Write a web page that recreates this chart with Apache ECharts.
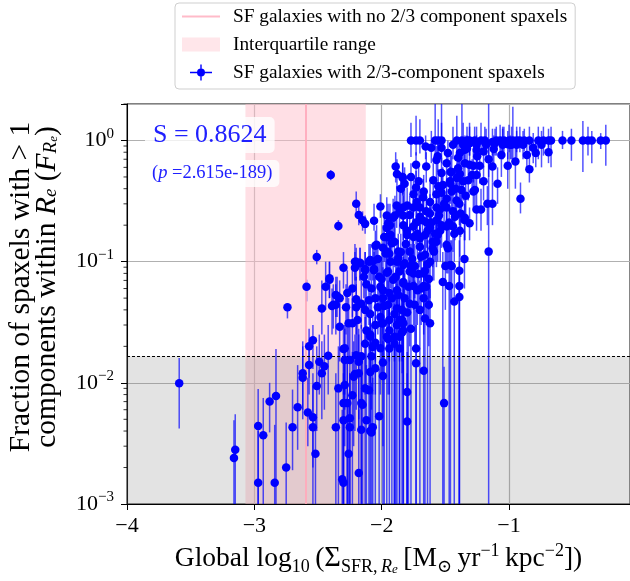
<!DOCTYPE html>
<html><head><meta charset="utf-8">
<script src="https://cdn.jsdelivr.net/npm/echarts@6/dist/echarts.min.js"></script>
<style>html,body{margin:0;padding:0;background:#fff}#c{width:630px;height:581px}</style>
</head><body><div id="c"></div>
<script>
// ---------- data ----------
const legendNames = ['SF galaxies with no 2/3 component spaxels', 'Interquartile range', 'SF galaxies with 2/3-component spaxels'];
const xRange = [-4, -0.05];
const yRange = [0.001, 2];
const xTickStep = 1;
const yMinorTickValues = [0.002,0.003,0.004,0.005,0.006,0.007,0.008,0.009,0.02,0.03,0.04,0.05,0.06,0.07,0.08,0.09,0.2,0.3,0.4,0.5,0.6,0.7,0.8,0.9,2];
const noMultiMedian = -2.596;
const interquartile = [-3.07, -2.125];
const detectionLimit = 0.0166;
const spearmanS = '0.8624';
const pValue = '2.615e-189';
// points: [x, y, yLow, yHigh]
const topRow = [[-1.77,1.0,0.73,1.4],[-1.73,1.0,0.75,1.6],[-1.70,1.0,0.78,1.5],[-1.58,1.0,0.7,2.3],[-1.556,1.0,0.75,1.5],[-1.53,1.0,0.8,1.4],[-1.41,1.0,0.7,1.6],[-1.37,1.0,0.68,2.3],[-1.33,1.0,0.8,1.3],[-1.31,1.0,0.75,1.4],[-1.27,1.0,0.8,1.3],[-1.22,1.0,0.8,1.4],[-1.19,1.0,0.78,1.3],[-1.13,0.97,0.75,1.25],[-1.10,1.0,0.75,1.3],[-1.07,1.0,0.7,1.35],[-1.05,0.95,0.7,1.3],[-1.04,1.0,0.78,1.3],[-1.01,0.93,0.7,1.2],[-1.00,1.0,0.8,1.35],[-0.97,1.0,0.65,1.9],[-0.94,1.0,0.8,1.3],[-0.915,1.0,0.8,1.3],[-0.88,1.0,0.82,1.25],[-0.84,1.0,0.8,1.3],[-0.77,1.0,0.7,1.3],[-0.73,1.0,0.75,1.3],[-0.69,1.0,0.8,1.25],[-0.67,1.0,0.6,1.3],[-0.58,1.0,0.85,1.2],[-0.51,1.0,0.68,1.25],[-0.42,1.0,0.55,1.45],[-0.38,1.0,0.75,1.3],[-0.35,1.0,0.65,1.2],[-0.28,1.0,0.85,1.15],[-0.24,1.0,0.62,1.35],
[-1.61,0.87,0.65,1.2],[-1.53,0.87,0.65,2.3],[-1.44,0.92,0.7,1.3],[-1.36,0.92,0.7,1.4],[-1.31,0.95,0.75,1.3],[-1.255,0.92,0.7,1.3],[-1.18,0.92,0.72,1.25],[-1.11,0.95,0.75,1.25],[-1.05,0.92,0.7,1.25],[-0.98,0.92,0.7,1.3],[-0.94,0.92,0.72,1.2],[-0.89,0.92,0.7,1.2],[-0.81,0.87,0.65,1.15],[-0.745,0.92,0.6,1.2]];
const upperCloud = [[-2.40,0.52,0.47,0.57],[-2.20,0.30,0.25,0.38],[-2.18,0.243,0.2,0.29],[-2.15,0.22,0.18,0.26],[-2.13,0.205,0.17,0.24],[-2.34,0.197,0.18,0.22],[-2.06,0.218,0.18,0.3],[-2.01,0.285,0.23,0.36],[-1.96,0.19,0.15,0.24],[-1.96,0.159,0.12,0.2],
[-1.655,0.89,0.7,1.1],[-0.86,0.76,0.6,0.95],[-0.84,0.58,0.45,0.75],[-0.79,0.79,0.6,1.0],[-0.69,0.80,0.65,1.0],[-0.91,0.33,0.25,0.45],[-1.01,0.62,0.4,0.8],[-0.95,0.67,0.4,0.9],[-1.09,0.44,0.3,0.6],[-1.13,0.61,0.45,0.8],[-1.06,0.76,0.5,1.0],[-0.99,0.92,0.7,1.1],[-1.13,0.30,0.2,0.45],[-1.17,0.30,0.2,0.42],[-1.22,0.27,0.18,0.4],[-1.31,0.207,0.15,0.28],[-1.35,0.221,0.15,0.3],
[-1.89,0.61,0.45,0.8],[-1.88,0.53,0.4,0.7],[-1.82,0.44,0.3,0.6],[-1.77,0.50,0.35,0.65],[-1.73,0.63,0.45,0.8],[-1.65,0.61,0.45,0.8],[-1.56,0.74,0.55,0.95],[-1.48,0.79,0.6,1.0],[-1.40,0.72,0.5,0.95],[-1.33,0.86,0.6,1.1],[-1.31,0.63,0.45,0.85],[-1.25,0.74,0.55,0.95],[-1.20,0.81,0.6,1.0],[-1.39,0.30,0.2,0.45],[-1.46,0.44,0.3,0.6],[-1.52,0.43,0.3,0.6],[-1.57,0.36,0.25,0.5],[-1.62,0.31,0.2,0.45],[-1.67,0.38,0.25,0.52],[-1.70,0.28,0.18,0.4],[-1.78,0.243,0.16,0.35],[-1.83,0.20,0.13,0.3],[-1.93,0.166,0.1,0.25],[-1.95,0.207,0.14,0.3],
[-1.835,0.49,0.35,0.65],[-1.85,0.40,0.28,0.55],[-1.71,0.46,0.32,0.62],[-1.73,0.41,0.28,0.56],[-1.57,0.69,0.5,0.9],[-1.49,0.65,0.45,0.85],[-1.45,0.55,0.4,0.75],[-1.53,0.54,0.38,0.72],[-1.595,0.47,0.33,0.65],[-1.556,0.42,0.3,0.58],[-1.464,0.46,0.32,0.62],[-1.386,0.79,0.55,1.05],[-1.347,0.84,0.6,1.1],[-1.28,0.62,0.45,0.82],[-1.347,0.65,0.45,0.85],[-1.40,0.59,0.4,0.8],[-1.386,0.53,0.36,0.72],[-1.32,0.47,0.32,0.65],[-1.373,0.39,0.27,0.55],[-1.45,0.38,0.26,0.52],[-1.53,0.37,0.25,0.5],[-1.674,0.34,0.23,0.48],[-1.725,0.31,0.2,0.44],[-1.752,0.28,0.18,0.4],[-1.831,0.28,0.18,0.4],[-1.882,0.29,0.19,0.42],[-1.896,0.24,0.15,0.35],[-1.831,0.24,0.15,0.35],[-1.935,0.20,0.12,0.3],[-1.70,0.235,0.15,0.34],[-1.621,0.25,0.16,0.36],[-1.543,0.27,0.18,0.38],[-1.49,0.28,0.19,0.4],[-1.412,0.32,0.22,0.45],[-1.268,0.39,0.27,0.55],[-1.347,0.23,0.15,0.33],[-1.425,0.235,0.15,0.34],[-1.49,0.195,0.12,0.28],[-1.569,0.22,0.14,0.32],[-1.647,0.21,0.13,0.3],[-1.752,0.195,0.12,0.28],[-1.386,0.18,0.11,0.26],[-1.255,0.27,0.18,0.38],[-1.255,0.84,0.65,1.1],
[-1.56,0.166,0.1,0.25],[-1.75,0.16,0.11,0.22],[-1.80,0.18,0.12,0.25],[-1.66,0.166,0.11,0.23],[-1.64,0.18,0.12,0.25],[-1.54,0.18,0.1,0.26],
[-1.835,0.50,0.36,0.66],[-1.46,0.55,0.4,0.75],[-1.41,0.49,0.34,0.66],[-1.36,0.46,0.32,0.62],[-1.255,0.52,0.36,0.7],[-1.20,0.46,0.32,0.62],[-1.28,0.38,0.26,0.52],[-1.49,0.33,0.22,0.46],[-1.57,0.28,0.18,0.4],[-1.65,0.26,0.17,0.37],[-1.44,0.26,0.17,0.37],[-1.75,0.36,0.24,0.5],[-1.80,0.29,0.19,0.41],[-1.86,0.26,0.17,0.37],[-1.91,0.23,0.15,0.33],[-1.96,0.24,0.16,0.34],[-1.73,0.21,0.14,0.3],[-1.62,0.19,0.12,0.28],[-1.53,0.20,0.13,0.29],[-1.44,0.195,0.12,0.28],[-1.80,0.166,0.1,0.24],[-1.70,0.156,0.1,0.23],[-1.90,0.146,0.09,0.21],[-1.57,0.146,0.09,0.21],[-1.49,0.137,0.08,0.2],
[-1.98,0.16,0.1,0.24],[-1.72,0.17,0.11,0.25],[-1.68,0.22,0.14,0.32],[-1.61,0.21,0.13,0.31],[-1.58,0.17,0.1,0.26],[-1.55,0.24,0.15,0.35],[-1.51,0.30,0.2,0.43],[-1.47,0.21,0.13,0.31],[-1.43,0.17,0.1,0.26],[-1.42,0.40,0.27,0.56],[-1.38,0.25,0.16,0.36],[-1.34,0.35,0.24,0.5],[-1.29,0.52,0.36,0.7],[-1.23,0.62,0.44,0.82],[-1.16,0.70,0.5,0.9],[-1.12,0.85,0.62,1.1]];
const midCloud = [[-2.74,0.042,0.034,0.045],[-2.59,0.062,0.047,0.071],[-2.51,0.109,0.095,0.125],[-2.47,0.041,0.025,0.07],[-2.44,0.062,0.04,0.1],[-2.41,0.071,0.05,0.1],[-2.39,0.043,0.025,0.06],[-2.36,0.044,0.025,0.065],[-2.36,0.053,0.035,0.075],[-2.33,0.029,0.015,0.045],[-2.33,0.050,0.03,0.07],[-2.30,0.089,0.06,0.12],[-2.28,0.042,0.025,0.065],[-2.26,0.031,0.015,0.05],[-2.23,0.031,0.015,0.05],[-2.21,0.10,0.07,0.14],[-2.21,0.089,0.06,0.12],[-2.20,0.049,0.03,0.075],[-2.20,0.042,0.025,0.065],[-2.19,0.033,0.018,0.05],[-2.17,0.097,0.07,0.13],[-2.13,0.021,0.008,0.035],[-2.13,0.085,0.06,0.12],[-2.10,0.10,0.07,0.14],[-2.12,0.027,0.012,0.045],[-2.10,0.048,0.03,0.07],[-2.05,0.050,0.03,0.075],
[-2.05,0.135,0.1,0.18],[-2.20,0.10,0.07,0.13],[-2.17,0.098,0.07,0.13],[-2.09,0.103,0.07,0.14],[-2.03,0.105,0.08,0.14],[-2.13,0.087,0.06,0.12],[-2.06,0.085,0.06,0.12],[-2.41,0.073,0.05,0.1],[-2.14,0.075,0.05,0.1],
[-2.35,0.052,0.035,0.075],[-2.38,0.044,0.028,0.065],[-2.16,0.045,0.028,0.07],[-2.13,0.040,0.022,0.06],[-2.09,0.037,0.02,0.055],[-2.03,0.042,0.025,0.065],[-2.01,0.035,0.02,0.055],[-2.05,0.030,0.015,0.05],[-1.99,0.031,0.015,0.05],[-2.09,0.024,0.01,0.04],[-2.05,0.0214,0.008,0.035],
[-1.16,0.121,0.0005,2.5],[-1.35,0.105,0.06,0.18],[-1.39,0.084,0.0005,0.15],[-1.39,0.063,0.0005,0.1],[-1.39,0.051,0.0005,0.09],[-1.47,0.063,0.0005,0.12],[-1.50,0.092,0.04,0.15],[-1.46,0.094,0.0005,0.15],[-1.62,0.031,0.0005,0.06],[-1.63,0.044,0.02,0.07],[-1.66,0.034,0.0005,0.06],[-1.65,0.062,0.03,0.1],[-1.67,0.050,0.025,0.08],[-1.63,0.072,0.04,0.11],[-1.66,0.084,0.05,0.12],[-1.72,0.058,0.03,0.09],[-1.71,0.079,0.045,0.12],[-1.78,0.045,0.02,0.07],[-1.83,0.066,0.035,0.1],[-1.84,0.040,0.015,0.065],[-1.83,0.031,0.0005,0.055],[-1.84,0.026,0.0005,0.05],[-1.90,0.024,0.0005,0.045],[-1.95,0.023,0.008,0.04],[-1.94,0.033,0.015,0.055],[-2.00,0.031,0.012,0.05],[-2.01,0.062,0.035,0.1],[-2.00,0.072,0.04,0.11],[-1.99,0.050,0.025,0.08],[-2.06,0.087,0.05,0.13],[-1.96,0.081,0.05,0.12],[-1.94,0.055,0.03,0.09],[-1.88,0.10,0.06,0.15],[-1.87,0.121,0.08,0.17],[-1.83,0.094,0.05,0.14],[-1.77,0.092,0.05,0.14],[-1.74,0.092,0.05,0.14],[-1.75,0.080,0.04,0.12],[-1.86,0.033,0.015,0.055],[-1.88,0.041,0.02,0.065],[-1.94,0.116,0.08,0.16],[-1.59,0.121,0.07,0.18],
[-1.48,0.129,0.08,0.2],[-1.45,0.092,0.05,0.15],[-1.52,0.068,0.0005,0.12],[-1.43,0.047,0.0005,0.09],[-1.60,0.146,0.09,0.22],[-1.60,0.129,0.07,0.2],[-1.62,0.10,0.05,0.16],[-1.67,0.080,0.04,0.13],[-1.67,0.063,0.03,0.1],[-1.74,0.044,0.02,0.07],[-1.75,0.063,0.03,0.1],[-1.78,0.083,0.045,0.12],[-1.82,0.097,0.05,0.14],[-1.86,0.083,0.04,0.13],[-1.88,0.058,0.03,0.09],[-1.82,0.050,0.025,0.08],[-1.87,0.053,0.025,0.085],[-1.90,0.037,0.015,0.06],[-1.84,0.033,0.012,0.055],[-1.95,0.044,0.02,0.07],[-1.94,0.027,0.008,0.045],[-1.83,0.027,0.008,0.045],[-1.86,0.024,0.0005,0.045],[-1.90,0.021,0.0005,0.04],[-1.96,0.024,0.0005,0.045],[-1.99,0.058,0.03,0.09],[-1.95,0.083,0.045,0.12],[-1.91,0.071,0.04,0.11],[-1.97,0.117,0.08,0.16],[-1.92,0.142,0.1,0.2],[-1.70,0.133,0.09,0.19],[-1.99,0.13,0.08,0.2],[-2.04,0.138,0.09,0.2],[-2.07,0.10,0.07,0.14],[-2.09,0.025,0.012,0.04],
[-1.78,0.121,0.08,0.17],[-1.66,0.114,0.07,0.17],[-1.96,0.121,0.08,0.17],[-1.87,0.107,0.07,0.15],
[-1.83,0.068,0.0005,0.11],[-1.93,0.10,0.06,0.14],[-1.89,0.075,0.0005,0.11],[-1.85,0.12,0.08,0.17],[-1.81,0.14,0.09,0.2],[-1.79,0.062,0.0005,0.1],[-1.76,0.105,0.06,0.15],[-1.69,0.11,0.07,0.16],[-1.64,0.095,0.0005,0.15],[-1.98,0.043,0.0005,0.07],[-1.92,0.05,0.0005,0.08],[-1.88,0.03,0.0005,0.05],[-1.80,0.038,0.0005,0.06],[-1.77,0.028,0.0005,0.05],[-1.70,0.04,0.0005,0.07],[-1.69,0.06,0.03,0.09],[-2.02,0.075,0.045,0.11],[-2.08,0.06,0.035,0.09],[-2.12,0.065,0.04,0.095],[-2.23,0.06,0.035,0.09],[-2.27,0.055,0.0005,0.085]];
const lowCloud = [[-3.59,0.0099,0.0042,0.016],[-3.16,0.0024,0.0005,0.0049],[-3.15,0.0028,0.0005,0.0055],[-2.97,0.0044,0.0005,0.0089],[-2.93,0.0037,0.0005,0.0075],[-2.97,0.0015,0.0005,0.004],[-2.88,0.0070,0.0039,0.010],[-2.83,0.0078,0.0005,0.019],[-2.84,0.0015,0.0005,0.0045],[-2.75,0.0020,0.0008,0.0047],[-2.70,0.0043,0.0019,0.0088],[-2.66,0.0063,0.0028,0.014],[-2.62,0.011,0.005,0.022],[-2.62,0.012,0.006,0.02],[-2.58,0.0057,0.003,0.011],[-2.57,0.020,0.011,0.028],[-2.57,0.014,0.008,0.022],[-2.54,0.0225,0.013,0.03],[-2.54,0.0043,0.0008,0.0095],[-2.54,0.0052,0.002,0.012],[-2.52,0.0026,0.0005,0.0055],[-2.51,0.0094,0.004,0.02],[-2.49,0.0149,0.008,0.025],[-2.47,0.012,0.005,0.022],[-2.45,0.0137,0.006,0.025],[-2.42,0.0167,0.008,0.03],[-2.36,0.0043,0.0005,0.012],[-2.34,0.009,0.0005,0.02],[-2.30,0.0068,0.0005,0.015],[-2.30,0.0049,0.0005,0.012],[-2.30,0.019,0.008,0.03],[-2.31,0.0016,0.0005,0.006],[-2.30,0.0015,0.0005,0.005],[-2.29,0.0096,0.003,0.02],[-2.29,0.0154,0.006,0.028],[-2.26,0.0026,0.0005,0.007],[-2.25,0.0051,0.0005,0.012],[-2.25,0.0154,0.005,0.03],[-2.23,0.0079,0.0005,0.018],[-2.18,0.0018,0.0005,0.006],[-2.21,0.0118,0.004,0.025],[-2.18,0.012,0.004,0.025],[-2.16,0.0041,0.0005,0.012],[-2.16,0.0068,0.0005,0.016],[-2.16,0.0166,0.006,0.03],[-2.12,0.0049,0.0005,0.014],[-2.10,0.0087,0.0005,0.02],[-2.09,0.0040,0.0005,0.012],[-2.07,0.0198,0.008,0.035],[-2.05,0.0132,0.0005,0.028],
[-2.29,0.0193,0.008,0.03],[-2.20,0.0169,0.006,0.03],[-2.08,0.0166,0.006,0.03],[-2.18,0.0149,0.005,0.028],[-2.22,0.0112,0.003,0.022],[-2.09,0.0123,0.004,0.025],[-1.99,0.0114,0.003,0.022],[-2.13,0.009,0.0005,0.02],[-2.27,0.0068,0.0005,0.015],[-2.25,0.0043,0.0005,0.012],[-2.15,0.0066,0.0005,0.016],[-2.08,0.0039,0.0005,0.01],[-2.07,0.0043,0.0005,0.011],[-2.02,0.0053,0.0005,0.013],[-1.80,0.0048,0.0005,0.012],[-1.80,0.0084,0.0005,0.018],[-1.51,0.0068,0.0005,0.0136],[-1.73,0.0192,0.0005,0.04],[-1.73,0.0145,0.0005,0.03],[-1.67,0.0126,0.0005,0.03],[-1.86,0.0192,0.0005,0.04],[-1.94,0.0192,0.0005,0.04],[-1.99,0.0147,0.0005,0.03],[-2.01,0.0193,0.008,0.035]];

// ---------- chart ----------
const FONT = '"Liberation Serif", "DejaVu Serif", serif';
const allPoints = topRow.concat(upperCloud, midCloud, lowCloud);
const chart = echarts.init(document.getElementById('c'), null, {renderer: 'canvas'});
const minus = s => String(s).replace('-', '\u2212');

const option = {
  animation: false,
  backgroundColor: '#fff',
  grid: {left: 127, right: 0, top: 104, bottom: 77, containLabel: false, outerBoundsMode: 'none',
    show: true, borderColor: '#000', borderWidth: 1, backgroundColor: 'transparent'},
  legend: {
    orient: 'vertical', left: 175, top: 3,
    padding: [4, 8, 7, 7], itemGap: 9, itemWidth: 46, itemHeight: 16,
    backgroundColor: '#fff', borderColor: '#cfcfcf', borderWidth: 1, borderRadius: 4,
    textStyle: {fontFamily: FONT, fontSize: 19.3, lineHeight: 18, color: '#000'},
    selectedMode: false,
    data: [
      {name: legendNames[0], icon: 'path://M0,0L0.01,0Z M0,7L38,7L38,9L0,9Z M46,16L46.01,16Z', itemStyle: {color: '#ffaabb'}},
      {name: legendNames[1], icon: 'path://M0,0L0.01,0Z M0,1L38,1L38,15L0,15Z M46,16L46.01,16Z', itemStyle: {color: 'rgba(255,192,203,0.5)'}},
      {name: legendNames[2], icon: 'path://M0,0L0.01,0Z M46,16L46.01,16Z M8,7.3L30,7.3L30,8.7L8,8.7Z M18.3,0L19.7,0L19.7,16L18.3,16Z M23,8A4,4 0 1 1 15,8A4,4 0 1 1 23,8Z', itemStyle: {color: '#0000ff'}}
    ]
  },
  xAxis: {
    type: 'value', min: xRange[0], max: xRange[1], interval: xTickStep,
    axisLine: {show: true, lineStyle: {color: '#000', width: 1}},
    axisTick: {show: true, inside: false, length: 6, lineStyle: {color: '#000', width: 1}},
    splitLine: {show: true, lineStyle: {color: '#b0b0b0', width: 1.2}},
    axisLabel: {margin: 11, fontFamily: FONT, fontSize: 22, color: '#000',
      formatter: v => Math.abs(v - Math.round(v)) < 1e-6 ? minus(Math.round(v)) : ''},
    name: 'Global log{sub|10}\u2009({big|\u03A3}{sub|SFR,\u2009}{subi|R}{subsub|e}\u2009[M{sub|\u2299}\u2009yr{sup|\u22121}\u2009kpc{sup|\u22122}])',
    nameLocation: 'middle', nameGap: 38,
    nameTextStyle: {fontFamily: FONT, fontSize: 27.5, color: '#000', lineHeight: 34,
      rich: {
        sub: {fontFamily: FONT, fontSize: 18, lineHeight: 17, verticalAlign: 'bottom', color: '#000'},
        subi: {fontFamily: FONT, fontSize: 18, fontStyle: 'italic', lineHeight: 17, verticalAlign: 'bottom', color: '#000'},
        subsub: {fontFamily: FONT, fontSize: 13, fontStyle: 'italic', lineHeight: 11, verticalAlign: 'bottom', color: '#000'},
        sup: {fontFamily: FONT, fontSize: 18, lineHeight: 17, verticalAlign: 'top', color: '#000'},
        big: {fontFamily: FONT, fontSize: 28.5, lineHeight: 34, color: '#000'}
      }}
  },
  yAxis: {
    type: 'log', logBase: 10, min: yRange[0], max: yRange[1],
    axisLine: {show: true, lineStyle: {color: '#000', width: 1}},
    axisTick: {show: true, inside: false, length: 6, lineStyle: {color: '#000', width: 1}},
    minorTick: {show: false},
    splitLine: {show: true, lineStyle: {color: '#b0b0b0', width: 1.2}},
    axisLabel: {margin: 13, fontFamily: FONT, color: '#000',
      formatter: v => {
        const l = Math.log10(v), e = Math.round(l);
        if (Math.abs(l - e) > 1e-6) return '';
        return '{b|10}{s|' + minus(e) + '}';
      },
      rich: {
        b: {fontFamily: FONT, fontSize: 22, lineHeight: 28, color: '#000'},
        s: {fontFamily: FONT, fontSize: 15, lineHeight: 15, verticalAlign: 'top', color: '#000'}
      }},
    name: 'Fraction of spaxels with > 1\ncomponents within {i|R}{sub|e} ({i|F}{subi|R}{subsub|e})',
    nameLocation: 'middle', nameRotate: 90, nameGap: 67,
    nameTextStyle: {fontFamily: FONT, fontSize: 29.5, color: '#000', lineHeight: 26, padding: [0, 0, 0, 34],
      rich: {
        i: {fontFamily: FONT, fontSize: 29.5, fontStyle: 'italic', lineHeight: 26, color: '#000'},
        sub: {fontFamily: FONT, fontSize: 19, fontStyle: 'italic', lineHeight: 14, verticalAlign: 'bottom', color: '#000'},
        subi: {fontFamily: FONT, fontSize: 19, fontStyle: 'italic', lineHeight: 14, verticalAlign: 'bottom', color: '#000'},
        subsub: {fontFamily: FONT, fontSize: 13, fontStyle: 'italic', lineHeight: 8, verticalAlign: 'bottom', color: '#000'}
      }}
  },
  graphic: [
    {type: 'text', left: 145, top: 117, z: 100,
      style: {text: 'S = ' + spearmanS, font: '26px ' + FONT, fill: '#2020ff',
        backgroundColor: 'rgba(255,255,255,0.8)', borderRadius: 5, padding: [5, 8, 5, 8]}},
    {type: 'text', left: 145, top: 160, z: 100,
      style: {text: '({i|p} =' + pValue + ')', font: '18.5px ' + FONT, fill: '#2020ff',
        rich: {i: {fontStyle: 'italic', fontFamily: FONT, fontSize: 18.5, fill: '#2020ff'}},
        backgroundColor: 'rgba(255,255,255,0.8)', borderRadius: 5, padding: [4, 7, 4, 7]}}
  ],
  series: [
    {name: legendNames[1], type: 'scatter', data: [], silent: true, z: 1,
      markArea: {silent: true, itemStyle: {color: 'rgba(255,192,203,0.5)'},
        data: [[{xAxis: interquartile[0]}, {xAxis: interquartile[1]}]]}},
    {name: legendNames[0], type: 'scatter', data: [], silent: true, z: 2,
      markLine: {silent: true, symbol: 'none', precision: 6, label: {show: false},
        lineStyle: {color: '#ffaabb', width: 2, type: 'solid', opacity: 0.9},
        data: [{xAxis: noMultiMedian}]}},
    {name: 'detection limit', type: 'scatter', data: [], silent: true, z: 3,
      markArea: {silent: true, itemStyle: {color: 'rgba(128,128,128,0.22)'},
        data: [[{yAxis: yRange[0]}, {yAxis: detectionLimit}]]},
      markLine: {silent: true, symbol: 'none', precision: 6, label: {show: false},
        lineStyle: {color: '#000', width: 1, type: [3, 2]},
        data: [{yAxis: detectionLimit}]}},
    {name: legendNames[2], type: 'custom', z: 4, clip: true, silent: true,
      data: allPoints, encode: {x: 0, y: 1},
      renderItem: (params, api) => {
        const x = api.value(0);
        const a = api.coord([x, api.value(2)]);
        const b = api.coord([x, api.value(3)]);
        return {type: 'line', shape: {x1: a[0], y1: a[1], x2: b[0], y2: b[1]},
          style: {stroke: 'rgba(0,0,255,0.68)', lineWidth: 1.5}};
      }},
    {name: legendNames[2], type: 'scatter', z: 5, silent: true,
      symbol: 'circle', symbolSize: 8.5,
      itemStyle: {color: '#0000ff', opacity: 1},
      data: allPoints.map(p => [p[0], p[1]])},
    {name: 'y minor ticks', type: 'custom', z: 6, clip: false, silent: true,
      data: yMinorTickValues.map(v => [xRange[0], v]), encode: {x: 0, y: 1},
      renderItem: (params, api) => {
        const p = api.coord([api.value(0), api.value(1)]);
        return {type: 'line', shape: {x1: p[0] - 3.5, y1: p[1], x2: p[0], y2: p[1]},
          style: {stroke: '#000', lineWidth: 0.8}};
      }}
  ]
};
chart.setOption(option);
</script>
</body></html>
